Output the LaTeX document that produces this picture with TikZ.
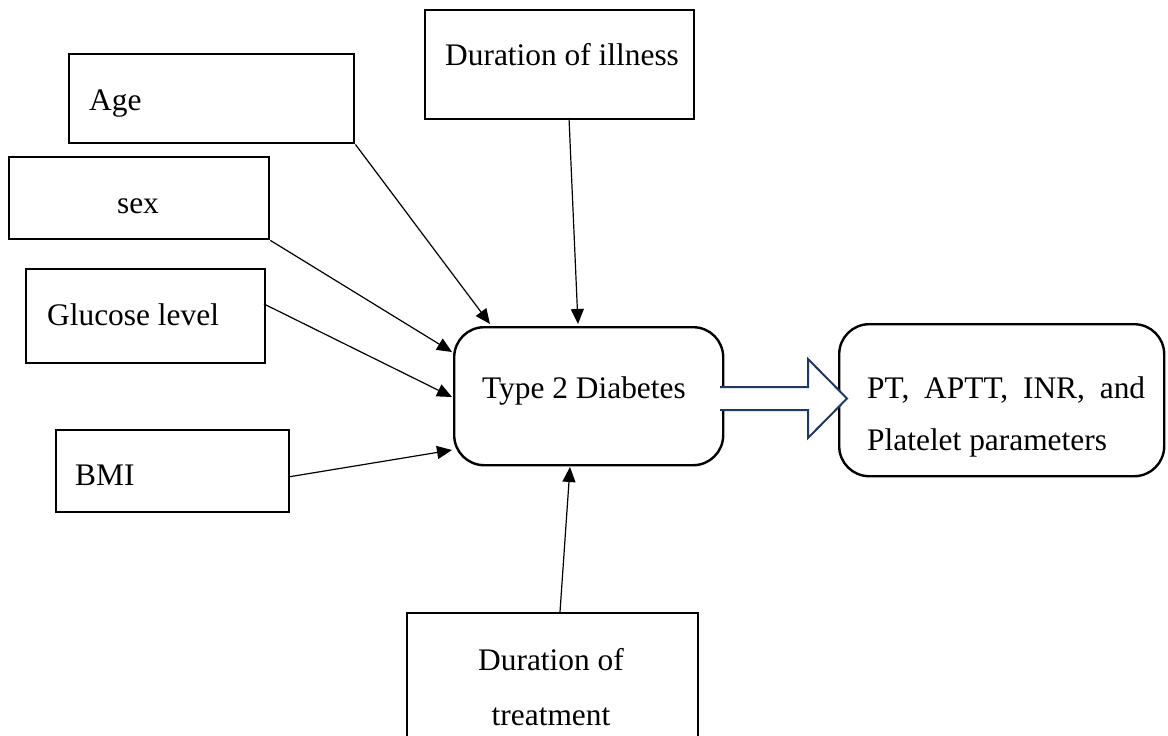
\documentclass[tikz,border=0pt]{standalone}
\usepackage{fontspec}
\setmainfont{Liberation Serif}
\usetikzlibrary{arrows.meta}
\definecolor{navy}{HTML}{203864}
\tikzset{
  box/.style={draw=black, line width=2.4pt, inner sep=0pt, anchor=north west},
  rbox/.style={draw=black, line width=2.4pt, inner sep=0pt, anchor=north west, rounded corners=30pt},
  lbl/.style={inner sep=0pt, font=\fontsize{31.4}{52}\selectfont},
  conn/.style={draw=black, line width=1.2pt, -{Triangle[length=15pt,width=13pt]}},
  blockarrow/.style={draw=navy, line width=2pt, fill=white, line join=miter}
}
\begin{document}
\begin{tikzpicture}[x=1pt,y=-1pt]
\useasboundingbox (0,0) rectangle (1168,736);
% boxes
\node[box, minimum width=285pt, minimum height=89pt] (age) at (68,53) {};
\node[box, minimum width=269pt, minimum height=109pt] (ill) at (424,9) {};
\node[box, minimum width=260pt, minimum height=82pt] (sex) at (8,156) {};
\node[box, minimum width=239pt, minimum height=94pt] (glu) at (25,268) {};
\node[box, minimum width=233pt, minimum height=82pt] (bmi) at (55,429) {};
\node[box, minimum width=291pt, minimum height=140pt] (trt) at (406,612) {};
\node[rbox, minimum width=269pt, minimum height=138pt] (t2) at (453,326) {};
\node[rbox, minimum width=325pt, minimum height=152pt] (pt) at (838,323) {};
% texts
\node[lbl, anchor=base west] (agetxt) at (89,110) {Age};
\node[lbl, anchor=base west] (illtxt) at (445,65) {Duration of illness};
\node[lbl, anchor=base] (sextxt) at (138,213) {sex};
\node[lbl, anchor=base west] (glutxt) at (47,325) {Glucose level};
\node[lbl, anchor=base west] (bmitxt) at (75,485) {BMI};
\node[lbl, anchor=base west] (t2txt) at (482,398) {Type 2 Diabetes};
\node[lbl, anchor=base west] (pttxt1) at (867,398) {\makebox[278pt][s]{PT, APTT, INR, and}};
\node[lbl, anchor=base west] (pttxt2) at (867,450) {Platelet parameters};
\node[lbl, anchor=base] (trttxt1) at (551,670) {Duration of};
\node[lbl, anchor=base] (trttxt2) at (551,725) {treatment};
% connector endpoints
\coordinate (a1) at (age.south east);
\coordinate (a2) at (490,324);
\coordinate (i1) at (569,118);
\coordinate (i2) at (578,324);
\coordinate (s1) at (sex.south east);
\coordinate (s2) at (452,352);
\coordinate (g1) at (264,304);
\coordinate (g2) at (452,397);
\coordinate (b1) at (288,477);
\coordinate (b2) at (452,450);
\coordinate (tr1) at (560,612);
\coordinate (tr2) at (570,467);
% connectors
\draw[conn] (a1) -- (a2);
\draw[conn] (i1) -- (i2);
\draw[conn] (s1) -- (s2);
\draw[conn] (g1) -- (g2);
\draw[conn] (b1) -- (b2);
\draw[conn] (tr1) -- (tr2);
% block arrow
\draw[blockarrow] (720,387) -- (808,387) -- (808,359) -- (847,398.5) -- (808,438) -- (808,410) -- (720,410);
\end{tikzpicture}
\end{document}
